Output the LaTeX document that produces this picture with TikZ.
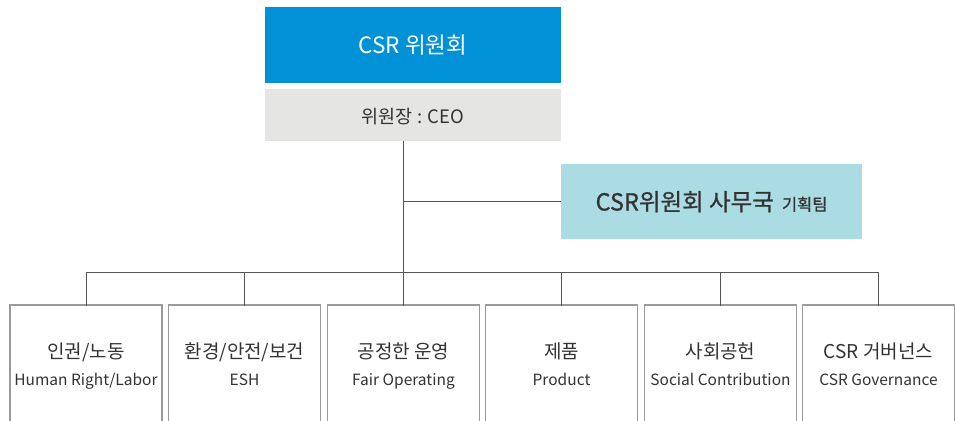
\documentclass[tikz,border=0pt]{standalone}
\usepackage{fontspec}
\setmainfont{Noto Sans CJK KR}
\newfontfamily\krsemi[FakeBold=0.8]{Noto Sans CJK KR}
\definecolor{topblue}{HTML}{0091D6}
\definecolor{chairgray}{HTML}{E5E5E4}
\definecolor{aqua}{HTML}{ABDBE3}
\definecolor{txt}{HTML}{333333}
\definecolor{linec}{HTML}{555555}
\definecolor{boxline}{HTML}{9A9A9A}
\begin{document}
\begin{tikzpicture}[x=1pt,y=1pt,
  fillbox/.style={inner sep=0pt, outer sep=0pt},
  unit/.style={draw=boxline, line width=1.8pt, fill=white, minimum width=152pt, minimum height=120pt, inner sep=0pt, outer sep=0pt},
  kor/.style={anchor=base, text=txt, font=\fontsize{19}{22}\selectfont, inner sep=0pt},
  eng/.style={anchor=base, text=txt, font=\fontsize{15.5}{18}\selectfont, inner sep=0pt},
  conn/.style={draw=linec, line width=0.8pt}]
\useasboundingbox (0,0) rectangle (955,-420);
\clip (0,0) rectangle (955,-420);
% top boxes
\node[fillbox, fill=topblue, minimum width=296pt, minimum height=76pt] (csr) at (413,-45) {};
\node[anchor=base, text=white, font=\fontsize{22.5}{26}\selectfont, inner sep=0pt] (csrt) at ([yshift=-9]csr.center) {CSR 위원회};
\node[fillbox, fill=chairgray, minimum width=296pt, minimum height=52pt] (chair) at (413,-115) {};
\node[anchor=base, text=txt, font=\fontsize{18.5}{22}\selectfont, inner sep=0pt] (chairt) at ([yshift=-8]chair.center) {위원장 : CEO};
\node[fillbox, fill=aqua, minimum width=301pt, minimum height=75pt] (office) at (711.5,-201.5) {};
\node[anchor=base, text=txt, inner sep=0pt] (officet) at ([yshift=-9]office.center) {{\krsemi\fontsize{23.5}{28}\selectfont CSR위원회 사무국}\hspace{8pt}{\krsemi\fontsize{16.5}{20}\selectfont 기획팀}};
% bottom units
\node[unit] (b1) at (86,-365) {};
\node[unit] (b2) at (244.5,-365) {};
\node[unit] (b3) at (403.5,-365) {};
\node[unit] (b4) at (561.5,-365) {};
\node[unit] (b5) at (720.5,-365) {};
\node[unit] (b6) at (878.5,-365) {};
\node[kor] (k1) at ([yshift=-53]b1.north) {인권/노동};
\node[eng] (e1) at ([yshift=-80]b1.north) {Human Right/Labor};
\node[kor] (k2) at ([yshift=-53]b2.north) {환경/안전/보건};
\node[eng] (e2) at ([yshift=-80]b2.north) {ESH};
\node[kor] (k3) at ([yshift=-53]b3.north) {공정한 운영};
\node[eng] (e3) at ([yshift=-80]b3.north) {Fair Operating};
\node[kor] (k4) at ([yshift=-53]b4.north) {제품};
\node[eng] (e4) at ([yshift=-80]b4.north) {Product};
\node[kor] (k5) at ([yshift=-53]b5.north) {사회공헌};
\node[eng] (e5) at ([yshift=-80]b5.north) {Social Contribution};
\node[kor] (k6) at ([yshift=-53]b6.north) {CSR 거버넌스};
\node[eng] (e6) at ([yshift=-80]b6.north) {CSR Governance};
% connectors
\draw[conn] (chair.south -| b3.north) -- ([yshift=-1]b3.north);
\draw[conn] (office.west) -- (office.west -| b3.north);
\draw[conn] ([yshift=-1]b1.north) -- ++(0,34) -| ([yshift=-1]b6.north);
\foreach \b in {b2,b4,b5}{\draw[conn] ([yshift=-1]\b.north) -- ++(0,34);}
\end{tikzpicture}
\end{document}
